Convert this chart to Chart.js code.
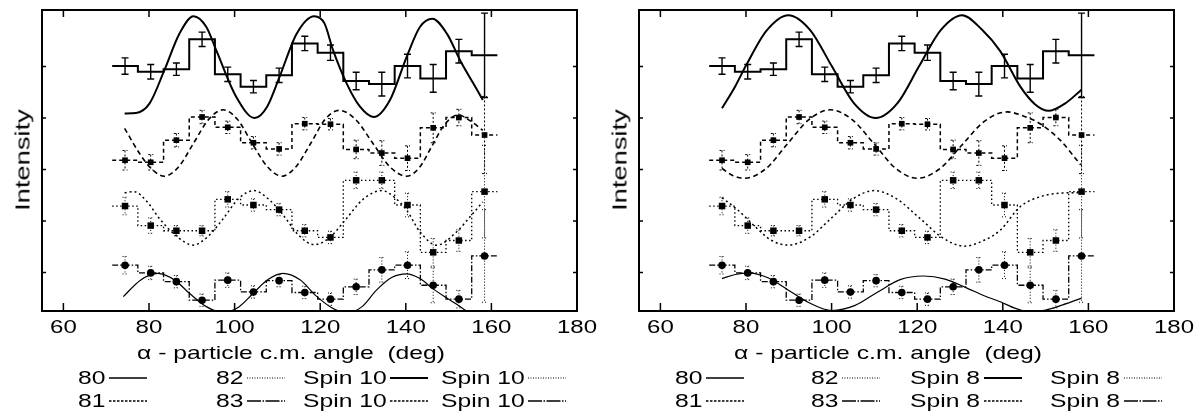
<!DOCTYPE html>
<html lang="en">
<head>
<meta charset="UTF-8">
<title>Alpha-particle angular distributions</title>
<script src="https://cdn.jsdelivr.net/npm/chart.js@4.4.1/dist/chart.umd.min.js"></script>
<style>
*{margin:0;padding:0;box-sizing:border-box;}
body{width:1197px;height:414px;background:#fff;overflow:hidden;position:relative;
  font-family:"Liberation Sans",Arial,Helvetica,sans-serif;color:#000;}
.panel{position:absolute;top:0;height:414px;}
.panel canvas{position:absolute;left:0;top:0;}
.ylabel{position:absolute;left:22px;top:160px;font-size:21px;line-height:21px;white-space:nowrap;
  transform:translate(-50%,-50%) rotate(-90deg) scaleX(1.3);}
.xtitle{position:absolute;left:137px;top:343px;font-size:19px;line-height:19px;white-space:pre;
  transform:scaleX(1.3);transform-origin:0 0;}
.lg{position:absolute;font-size:19px;line-height:19px;white-space:nowrap;transform:scaleX(1.3);transform-origin:0 0;}
.lg-line{position:absolute;}
</style>
</head>
<body>
<div class="panel" id="leftPanel" style="left:0;width:598px;">
  <canvas id="spin10" width="598" height="414"></canvas>
</div>
<div class="panel" id="rightPanel" style="left:597px;width:600px;">
  <canvas id="spin8" width="600" height="414"></canvas>
</div>
<script>
// bin centres (deg) and bin half width
const angles = [74.4, 80.4, 86.4, 92.4, 98.4, 104.4, 110.4, 116.4, 122.4, 128.4, 134.4, 140.4, 146.4, 152.4, 158.4];
const binHalfWidth = 3;

// measured intensities (arbitrary units, runs shifted vertically) and errors
const run80 = [4.01, 3.90, 3.95, 4.53, 3.85, 3.61, 3.83, 4.45, 4.27, 3.72, 3.66, 4.01, 3.77, 4.30, 4.22];
const err80 = [0.16, 0.14, 0.12, 0.14, 0.14, 0.12, 0.14, 0.14, 0.15, 0.17, 0.23, 0.23, 0.27, 0.23, 0.82];
const run81 = [2.18, 2.14, 2.57, 3.02, 2.82, 2.52, 2.40, 2.89, 2.88, 2.39, 2.32, 2.22, 2.81, 3.01, 2.67];
const err81 = [0.19, 0.15, 0.13, 0.13, 0.12, 0.12, 0.12, 0.12, 0.11, 0.18, 0.24, 0.24, 0.29, 0.16, 0.75];
const run82 = [1.29, 0.91, 0.81, 0.81, 1.42, 1.31, 1.22, 0.81, 0.68, 1.79, 1.79, 1.31, 0.39, 0.62, 1.57];
const err82 = [0.17, 0.15, 0.10, 0.10, 0.15, 0.12, 0.12, 0.12, 0.12, 0.16, 0.16, 0.23, 0.27, 0.21, 0.90];
const run83 = [0.14, -0.01, -0.18, -0.54, -0.15, -0.38, -0.16, -0.39, -0.52, -0.28, 0.05, 0.14, -0.25, -0.52, 0.32];
const err83 = [0.17, 0.13, 0.12, 0.12, 0.14, 0.12, 0.12, 0.12, 0.12, 0.15, 0.24, 0.26, 0.34, 0.17, 0.90];

// theoretical curves, [angle, intensity]
const spin10_80 = [[74.3,3.09],[77.0,3.10],[80.1,3.28],[83.6,3.93],[87.1,4.64],[90.4,4.98],[93.4,4.77],[95.7,4.32],[100.4,3.41],[104.7,3.00],[107.6,3.22],[110.5,3.80],[114.5,4.64],[118.6,4.98],[121.0,4.84],[123.0,4.32],[126.2,3.67],[129.3,3.22],[132.5,3.02],[136.3,3.35],[140.2,4.19],[143.3,4.77],[146.2,4.93],[149.6,4.64],[152.7,4.12],[155.8,3.67],[158.0,3.35]];
const spin10_81 = [[74.3,2.80],[77.8,2.31],[80.5,2.02],[83.6,1.87],[87.0,2.06],[90.4,2.51],[93.9,2.97],[97.3,3.16],[100.7,2.97],[104.1,2.51],[107.6,2.06],[111.1,1.87],[114.4,2.06],[117.8,2.51],[121.1,2.97],[124.4,3.15],[128.3,2.97],[132.3,2.51],[136.2,2.06],[140.2,1.87],[143.2,2.04],[146.2,2.47],[149.2,2.89],[152.3,3.06],[155.0,2.95],[158.0,2.76]];
const spin10_82 = [[74.3,1.55],[76.5,1.57],[79.5,1.38],[82.5,1.04],[86.5,0.70],[90.3,0.53],[93.8,0.70],[97.3,1.04],[101.0,1.44],[104.5,1.59],[108.0,1.42],[111.3,1.12],[115.0,0.72],[118.5,0.54],[122.0,0.66],[125.4,0.97],[130.0,1.42],[134.4,1.59],[137.5,1.45],[140.2,1.21],[143.3,0.79],[147.2,0.53],[151.9,0.79],[155.0,1.08],[158.0,1.37]];
const spin10_83 = [[74.0,-0.47],[78.0,-0.15],[82.1,-0.02],[86.0,-0.15],[89.5,-0.41],[93.5,-0.67],[97.3,-0.78],[101.0,-0.67],[104.3,-0.41],[107.8,-0.14],[111.3,-0.02],[115.2,-0.14],[119.1,-0.46],[122.6,-0.68],[126.2,-0.79],[129.7,-0.67],[133.2,-0.34],[136.7,-0.10],[140.2,-0.03],[143.3,-0.12],[146.4,-0.32],[149.2,-0.48],[151.9,-0.62],[154.0,-0.74],[156.0,-0.84],[158.0,-0.94]];

const spin8_80 = [[74.4,3.19],[77.5,3.62],[80.0,4.02],[84.8,4.70],[89.9,5.00],[95.0,4.71],[100.1,4.00],[105.2,3.29],[110.3,3.00],[115.4,3.29],[120.4,4.00],[125.5,4.71],[130.5,5.00],[135.1,4.72],[139.4,4.30],[144.1,3.61],[147.5,3.27],[150.7,3.14],[154.5,3.28],[158.4,3.55]];
const spin8_81 = [[74.4,2.02],[77.0,1.88],[79.7,1.83],[84.7,2.02],[89.7,2.50],[94.7,2.97],[99.7,3.16],[104.8,2.97],[109.9,2.50],[115.0,2.02],[120.0,1.83],[125.2,2.01],[130.4,2.47],[135.6,2.93],[141.0,3.12],[144.8,3.04],[148.7,2.89],[153.4,2.57],[158.2,2.09]];
const spin8_82 = [[74.4,1.45],[78.0,1.22],[82.0,0.90],[86.0,0.62],[89.9,0.53],[95.0,0.69],[100.0,1.06],[105.0,1.43],[109.9,1.59],[115.0,1.44],[120.5,1.06],[126.0,0.67],[131.0,0.51],[135.5,0.62],[139.4,0.82],[144.1,1.28],[148.7,1.47],[153.4,1.54],[158.2,1.55]];
const spin8_83 = [[74.4,-0.12],[77.5,-0.04],[80.5,-0.01],[85.0,-0.10],[90.0,-0.35],[95.0,-0.60],[100.0,-0.74],[105.5,-0.64],[110.8,-0.38],[116.0,-0.14],[121.5,-0.07],[126.5,-0.13],[131.5,-0.30],[135.5,-0.45],[139.4,-0.57],[143.0,-0.70],[146.0,-0.76],[150.0,-0.73],[154.0,-0.63],[158.4,-0.50]];

const xTicks = [60, 80, 100, 120, 140, 160, 180];
const yTicks = [0, 1, 2, 3, 4];
const runNames = ['80', '81', '82', '83'];
const xTitle = 'α - particle c.m. angle  (deg)';
const yTitle = 'Intensity';

const runValues = [run80, run81, run82, run83];
const runErrors = [err80, err81, err82, err83];

// styles
const histStyles = [
  {width: 2, dash: []},
  {width: 1.5, dash: [4, 3]},
  {width: 1.3, dash: [1.5, 2.5]},
  {width: 1.3, dash: [6, 2, 1.5, 2]}
];
const errStyles = [
  {width: 1.4, dash: [], cap: 3.5},
  {width: 1, dash: [2, 2], cap: 2.5},
  {width: 1, dash: [1, 2], cap: 2.5},
  {width: 1, dash: [1, 2], cap: 2.5}
];
const markerStyles = [null, {style: 'rect', radius: 4}, {style: 'rect', radius: 4.6}, {style: 'circle', radius: 3.8}];
const curveStyles = [
  {width: 2, dash: []},
  {width: 1.6, dash: [5, 3.5]},
  {width: 1.5, dash: [2, 3]},
  {width: 1.2, dash: []}
];
const legendRunLines = [{width: 1.5, dash: ''}, {width: 1.3, dash: '2.5 1.5'}, {width: 1.2, dash: '1 1.5'}, {width: 1.5, dash: '14 1.5 1.5 1.5'}];
const legendSpinLines = [{width: 2, dash: ''}, {width: 1.3, dash: '2.5 1.5'}, {width: 1.2, dash: '1 1.5'}, {width: 1.5, dash: '14 1.5 1.5 1.5'}];
const textStretch = 1.3;
const legendRowTop = [368, 391];

function stepLine(vals) {
  return angles.flatMap((a, i) => [{x: a - binHalfWidth, y: vals[i]}, {x: a + binHalfWidth, y: vals[i]}]);
}

function decorPlugin() {
  return {
    id: 'decor',
    beforeDatasetsDraw(chart) {
      const {ctx, scales: {x, y}} = chart;
      ctx.save();
      ctx.strokeStyle = '#000';
      runValues.forEach((vals, s) => {
        const st = errStyles[s];
        ctx.lineWidth = st.width;
        ctx.setLineDash(st.dash);
        ctx.beginPath();
        angles.forEach((a, i) => {
          const px = x.getPixelForValue(a);
          const hi = y.getPixelForValue(vals[i] + runErrors[s][i]);
          const lo = y.getPixelForValue(vals[i] - runErrors[s][i]);
          ctx.moveTo(px, hi); ctx.lineTo(px, lo);
          ctx.moveTo(px - st.cap, hi); ctx.lineTo(px + st.cap, hi);
          ctx.moveTo(px - st.cap, lo); ctx.lineTo(px + st.cap, lo);
        });
        ctx.stroke();
      });
      ctx.restore();
    },
    afterDraw(chart) {
      const {ctx, chartArea: a, scales: {x, y}} = chart;
      ctx.save();
      ctx.strokeStyle = '#000';
      ctx.setLineDash([]);
      ctx.lineWidth = 2;
      ctx.strokeRect(a.left, a.top, a.right - a.left, a.bottom - a.top);
      ctx.lineWidth = 1.5;
      ctx.beginPath();
      xTicks.forEach(v => {
        const px = x.getPixelForValue(v);
        ctx.moveTo(px, a.bottom); ctx.lineTo(px, a.bottom - 8);
        ctx.moveTo(px, a.top); ctx.lineTo(px, a.top + 7);
      });
      yTicks.forEach(v => {
        const py = y.getPixelForValue(v);
        ctx.moveTo(a.left, py); ctx.lineTo(a.left + 4, py);
        ctx.moveTo(a.right, py); ctx.lineTo(a.right - 4, py);
      });
      ctx.stroke();
      ctx.fillStyle = '#000';
      ctx.font = '18.5px "Liberation Sans", Arial, sans-serif';
      ctx.textAlign = 'center';
      ctx.textBaseline = 'alphabetic';
      xTicks.forEach(v => {
        ctx.save();
        ctx.translate(x.getPixelForValue(v), a.bottom + 21.5);
        ctx.scale(textStretch, 1);
        ctx.fillText(String(v), 0, 0);
        ctx.restore();
      });
      ctx.restore();
    }
  };
}

function makePanel(canvasId, panelId, curves, spinLabel, padRight, legendCols) {
  const datasets = [];
  runValues.forEach((vals, s) => {
    const m = markerStyles[s];
    if (!m) return;
    datasets.push({
      data: angles.map((a, i) => ({x: a, y: vals[i]})),
      showLine: false, pointStyle: m.style, pointRadius: m.radius,
      backgroundColor: '#000', borderColor: '#000', borderWidth: 0
    });
  });
  runValues.forEach((vals, s) => {
    datasets.push({
      data: stepLine(vals), showLine: true, pointRadius: 0,
      borderColor: '#000', borderWidth: histStyles[s].width, borderDash: histStyles[s].dash, tension: 0
    });
  });
  curves.forEach((c, s) => {
    datasets.push({
      data: c.map(([ang, v]) => ({x: ang, y: v})), showLine: true, pointRadius: 0,
      borderColor: '#000', borderWidth: curveStyles[s].width, borderDash: curveStyles[s].dash,
      cubicInterpolationMode: 'monotone'
    });
  });

  new Chart(document.getElementById(canvasId), {
    type: 'scatter',
    data: {datasets},
    options: {
      responsive: false, animation: false, events: [],
      layout: {padding: {left: 42, right: padRight, top: 10, bottom: 103}},
      plugins: {legend: {display: false}, tooltip: {enabled: false}},
      scales: {
        x: {type: 'linear', display: false, min: 55, max: 180},
        y: {type: 'linear', display: false, min: -0.75, max: 5.1}
      }
    },
    plugins: [decorPlugin()]
  });

  const panel = document.getElementById(panelId);
  const yl = document.createElement('div');
  yl.className = 'ylabel'; yl.textContent = yTitle;
  panel.appendChild(yl);
  const xt = document.createElement('div');
  xt.className = 'xtitle'; xt.textContent = xTitle;
  panel.appendChild(xt);

  const entries = runNames.map((n, s) => ({label: n, line: legendRunLines[s]}))
    .concat(curves.map((c, s) => ({label: spinLabel, line: legendSpinLines[s]})));
  entries.forEach((e, k) => {
    const left = legendCols[Math.floor(k / 2)], top = legendRowTop[k % 2];
    const t = document.createElement('div');
    t.className = 'lg'; t.textContent = e.label;
    t.style.left = left + 'px'; t.style.top = top + 'px';
    panel.appendChild(t);
    const lineLeft = left + t.offsetWidth * textStretch + 4;
    const svg = document.createElementNS('http://www.w3.org/2000/svg', 'svg');
    svg.setAttribute('width', 40); svg.setAttribute('height', 4);
    svg.setAttribute('class', 'lg-line');
    svg.style.left = lineLeft + 'px'; svg.style.top = (top + 8) + 'px';
    const ln = document.createElementNS('http://www.w3.org/2000/svg', 'line');
    ln.setAttribute('x1', 0); ln.setAttribute('x2', 38); ln.setAttribute('y1', 2); ln.setAttribute('y2', 2);
    ln.setAttribute('stroke', '#000'); ln.setAttribute('stroke-width', e.line.width);
    if (e.line.dash) ln.setAttribute('stroke-dasharray', e.line.dash);
    svg.appendChild(ln);
    panel.appendChild(svg);
  });
}

makePanel('spin10', 'leftPanel', [spin10_80, spin10_81, spin10_82, spin10_83], 'Spin 10', 21, [78, 216, 303, 441]);
makePanel('spin8', 'rightPanel', [spin8_80, spin8_81, spin8_82, spin8_83], 'Spin 8', 23, [78, 214, 313, 453]);
</script>
</body>
</html>
